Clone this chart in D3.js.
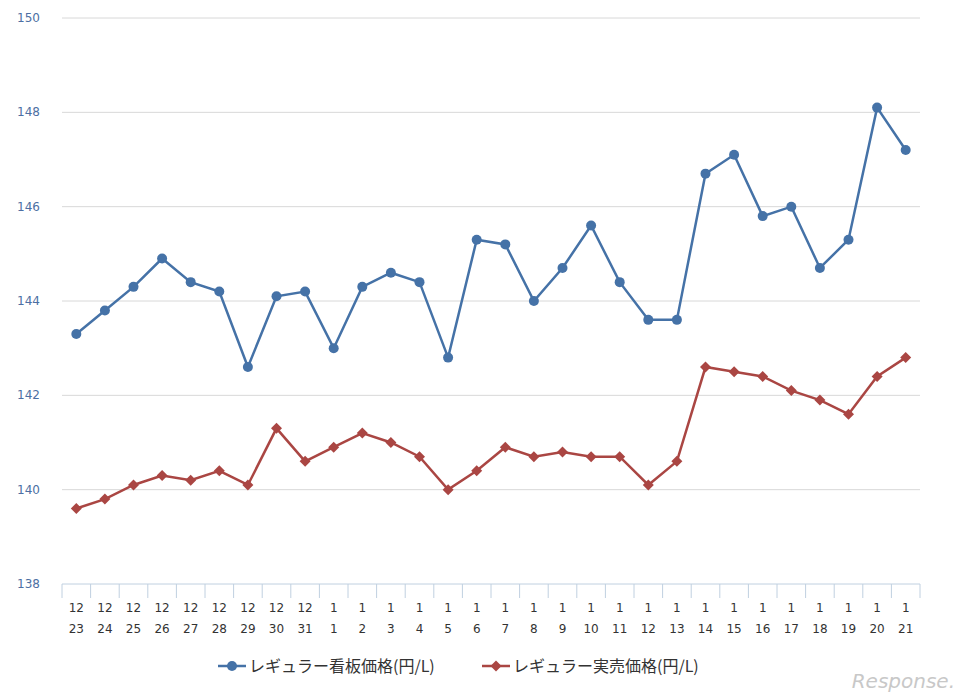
<!DOCTYPE html>
<html><head><meta charset="utf-8">
<script src="https://cdn.jsdelivr.net/npm/d3@7"></script>
<style>body{margin:0;background:#fff;font-family:"Noto Sans CJK JP","DejaVu Sans",sans-serif}</style>
</head><body><svg id="c" width="968" height="700"></svg>
<script>
const months=["12","12","12","12","12","12","12","12","12","1","1","1","1","1","1","1","1","1","1","1","1","1","1","1","1","1","1","1","1","1"];
const days=["23","24","25","26","27","28","29","30","31","1","2","3","4","5","6","7","8","9","10","11","12","13","14","15","16","17","18","19","20","21"];
const signPrice=[143.3,143.8,144.3,144.9,144.4,144.2,142.6,144.1,144.2,143.0,144.3,144.6,144.4,142.8,145.3,145.2,144.0,144.7,145.6,144.4,143.6,143.6,146.7,147.1,145.8,146.0,144.7,145.3,148.1,147.2];
const salePrice=[139.6,139.8,140.1,140.3,140.2,140.4,140.1,141.3,140.6,140.9,141.2,141.0,140.7,140.0,140.4,140.9,140.7,140.8,140.7,140.7,140.1,140.6,142.6,142.5,142.4,142.1,141.9,141.6,142.4,142.8];
const yTicks=[138,140,142,144,146,148,150];
const seriesNames=["レギュラー看板価格(円/L)","レギュラー実売価格(円/L)"];
const colors=["#4572a7","#aa4643"];

const svg=d3.select("#c");
const idx=d3.range(months.length);
const x=d3.scaleBand().domain(idx).range([62,920]);
const y=d3.scaleLinear().domain([138,150]).range([584,18]);

svg.append("g").selectAll("line").data(yTicks.filter(t=>t>138)).join("line")
 .attr("x1",62).attr("x2",920).attr("y1",d=>y(d)).attr("y2",d=>y(d)).attr("stroke","#d8d8d8");
svg.append("g").selectAll("text").data(yTicks).join("text")
 .attr("x",40).attr("y",d=>y(d)+4).attr("text-anchor","end").attr("fill","#4d6fa3")
 .attr("font-size",12).attr("font-family","DejaVu Sans").text(d=>d);
svg.append("line").attr("x1",62).attr("x2",920).attr("y1",584).attr("y2",584).attr("stroke","#c0d0e0");
svg.append("g").selectAll("line").data(d3.range(months.length+1)).join("line")
 .attr("x1",d=>62+d*x.step()).attr("x2",d=>62+d*x.step()).attr("y1",584).attr("y2",598).attr("stroke","#c0d0e0");
const lab=svg.append("g").attr("font-size",12).attr("font-family","DejaVu Sans").attr("fill","#333").attr("text-anchor","middle");
idx.forEach(i=>{
 const cx=x(i)+x.bandwidth()/2;
 lab.append("text").attr("x",cx).attr("y",612).text(months[i]);
 lab.append("text").attr("x",cx).attr("y",633).text(days[i]);
});
const cx=i=>x(i)+x.bandwidth()/2;
const line=d3.line().x((d,i)=>cx(i)).y(d=>y(d));
[signPrice,salePrice].forEach((s,k)=>{
 svg.append("path").datum(s).attr("d",line).attr("fill","none").attr("stroke",colors[k]).attr("stroke-width",2.5);
});
svg.append("g").selectAll("circle").data(signPrice).join("circle")
 .attr("cx",(d,i)=>cx(i)).attr("cy",d=>y(d)).attr("r",5).attr("fill",colors[0]);
const dia="M0,-5.5L5.5,0L0,5.5L-5.5,0Z";
svg.append("g").selectAll("path").data(salePrice).join("path")
 .attr("d",dia).attr("transform",(d,i)=>`translate(${cx(i)},${y(d)})`).attr("fill",colors[1]);

const lg=svg.append("g").attr("font-size",16).attr("fill","#333");
const legX=[218,482];
seriesNames.forEach((n,k)=>{
 lg.append("line").attr("x1",legX[k]).attr("x2",legX[k]+28).attr("y1",666).attr("y2",666).attr("stroke",colors[k]).attr("stroke-width",2.5);
 if(k==0) lg.append("circle").attr("cx",legX[k]+14).attr("cy",666).attr("r",5).attr("fill",colors[k]);
 else lg.append("path").attr("d",dia).attr("transform",`translate(${legX[k]+14},666)`).attr("fill",colors[k]);
 lg.append("text").attr("x",legX[k]+31).attr("y",672).text(n);
});
svg.append("text").attr("x",955).attr("y",688).attr("text-anchor","end").attr("font-size",20).attr("font-style","italic")
 .attr("font-family","DejaVu Sans").attr("fill","#c8c8c8").text("Response.");
</script></body></html>
